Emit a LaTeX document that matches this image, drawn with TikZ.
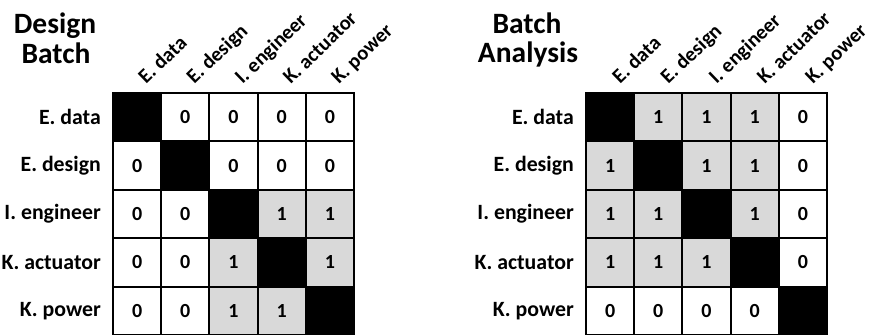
\documentclass[tikz,border=0pt]{standalone}
\usepackage{fontspec}
\setmainfont{Carlito}
\definecolor{cellgrey}{HTML}{D9D9D9}
\expandafter\def\csname celltxtB\endcsname{}
\expandafter\def\csname celltxt0\endcsname{0}
\expandafter\def\csname celltxt1\endcsname{1}
\tikzset{
  cellbox/.style={draw=black, line width=2pt, minimum width=48.2pt, minimum height=48.4pt, inner sep=0pt, font=\fontsize{20}{22}\selectfont\bfseries},
  cellB/.style={fill=black},
  cell0/.style={fill=white},
  cell1/.style={fill=cellgrey},
  rowlab/.style={anchor=east, inner sep=0pt, font=\fontsize{21.8}{24}\selectfont\bfseries},
  collab/.style={anchor=base west, rotate=44, inner sep=0pt, font=\fontsize{20.5}{22}\selectfont\bfseries},
  title/.style={anchor=base, inner sep=0pt, font=\fontsize{29.5}{31}\selectfont\bfseries}
}
\begin{document}
\begin{tikzpicture}[x=1pt, y=-1pt]
\useasboundingbox (0,0) rectangle (871,335);
% titles
\node[title] (t1a) at (55,33) {Design};
\node[title] (t1b) at (56,63) {Batch};
\node[title] (t2a) at (527,33) {Batch};
\node[title] (t2b) at (528,62) {Analysis};
% labels
\foreach \lab [count=\i] in {E. data, E. design, I. engineer, K. actuator, K. power} {
  \node[rowlab] (lr\i) at (101, {93+48.4*(\i-0.5)}) {\lab};
  \node[rowlab] (rr\i) at (574, {93+48.4*(\i-0.5)}) {\lab};
  \node[collab] (lc\i) at ({113+48.2*(\i-0.5)+9}, 85) {\lab};
  \node[collab] (rc\i) at ({586+48.2*(\i-0.5)+10}, 85) {\lab};
}
% left matrix
\foreach \row [count=\r] in {{B,0,0,0,0},{0,B,0,0,0},{0,0,B,1,1},{0,0,1,B,1},{0,0,1,1,B}} {
  \foreach \v [count=\c] in \row {
    \node[cellbox, cell\v] (L-\r-\c) at ({113+48.2*(\c-0.5)}, {93+48.4*(\r-0.5)}) {\csname celltxt\v\endcsname};
  }
}
% right matrix
\foreach \row [count=\r] in {{B,1,1,1,0},{1,B,1,1,0},{1,1,B,1,0},{1,1,1,B,0},{0,0,0,0,B}} {
  \foreach \v [count=\c] in \row {
    \node[cellbox, cell\v] (R-\r-\c) at ({586+48.2*(\c-0.5)}, {93+48.4*(\r-0.5)}) {\csname celltxt\v\endcsname};
  }
}
\end{tikzpicture}
\end{document}
